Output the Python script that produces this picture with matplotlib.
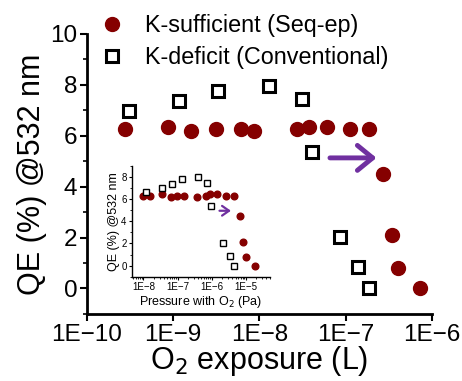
import numpy as np
import matplotlib
matplotlib.use("Agg")
import matplotlib.pyplot as plt
from matplotlib.ticker import FixedLocator, FuncFormatter, LogLocator, MultipleLocator, NullFormatter

plt.rcParams['font.family'] = ['Liberation Sans', 'DejaVu Sans']

# ---- main panel data: O2 exposure (L) vs QE (%) ----
suff_x = [2.74e-10, 8.73e-10, 1.63e-9, 3.13e-9, 6.10e-9, 8.7e-9, 2.75e-8, 3.79e-8,
          6.03e-8, 1.12e-7, 1.84e-7, 2.74e-7, 3.43e-7, 4.09e-7, 7.31e-7]
suff_y = [6.26, 6.36, 6.17, 6.27, 6.26, 6.17, 6.26, 6.36,
          6.36, 6.26, 6.26, 4.5, 2.09, 0.81, 0.03]
def_x = [3.08e-10, 1.16e-9, 3.32e-9, 1.30e-8, 3.09e-8, 4.04e-8, 8.61e-8, 1.38e-7, 1.84e-7]
def_y = [6.97, 7.37, 7.76, 7.97, 7.46, 5.38, 2.01, 0.85, 0.03]

# ---- inset data: pressure with O2 (Pa) vs QE (%) ----
in_suff_x = [9.5e-9, 1.6e-8, 3.5e-8, 6.5e-8, 9.5e-8, 1.5e-7, 3.6e-7, 6.8e-7,
             9.2e-7, 1.46e-6, 2.7e-6, 4.6e-6, 6.6e-6, 8.2e-6, 1.0e-5, 1.8e-5]
in_suff_y = [6.33, 6.33, 6.45, 6.2, 6.33, 6.33, 6.2, 6.33,
             6.45, 6.45, 6.33, 6.33, 4.5, 2.1, 0.8, 0.0]
in_def_x = [1.17e-8, 3.6e-8, 6.8e-8, 1.35e-7, 3.9e-7, 7.1e-7, 9.8e-7, 2.1e-6, 3.4e-6, 4.6e-6]
in_def_y = [6.64, 7.0, 7.4, 7.8, 8.0, 7.5, 5.4, 2.0, 0.85, 0.0]

main_xticks = [1e-10, 1e-9, 1e-8, 1e-7, 1e-6]
inset_xticks = [1e-8, 1e-7, 1e-6, 1e-5]
yticks_main = [0, 2, 4, 6, 8, 10]
yticks_inset = [0, 2, 4, 6, 8]

RED = '#850000'
PURPLE = '#7030A0'

def efmt(v, pos):
    e = int(round(np.log10(v)))
    return "1E\u2212%d" % (-e) if e < 0 else "1E%d" % e

fig = plt.figure(figsize=(4.62, 3.81), dpi=100)
ax = fig.add_axes([0.188, 0.176, 0.747, 0.735])

h1, = ax.plot(suff_x, suff_y, 'o', color=RED, ms=10, mec=RED, zorder=3,
              label='K-sufficient (Seq-ep)')
h2, = ax.plot(def_x, def_y, 's', mfc='white', mec='black', mew=2.2, ms=8.5, zorder=3,
              label='K-deficit (Conventional)')
ax.set_xscale('log')
ax.set_xlim(1e-10, 1.0e-6)
ax.set_ylim(-1, 10)
ax.xaxis.set_major_locator(FixedLocator(main_xticks))
ax.xaxis.set_major_formatter(FuncFormatter(efmt))
ax.xaxis.set_minor_locator(LogLocator(base=10, subs=np.arange(2, 10)))
ax.xaxis.set_minor_formatter(NullFormatter())
ax.yaxis.set_major_locator(FixedLocator(yticks_main))
ax.yaxis.set_minor_locator(MultipleLocator(1))
for s in ['top', 'right']:
    ax.spines[s].set_visible(False)
for s in ['left', 'bottom']:
    ax.spines[s].set_linewidth(2)
ax.tick_params(axis='both', which='major', direction='out', length=5, width=1.5, labelsize=17.5, pad=2)
ax.tick_params(axis='both', which='minor', direction='out', length=3, width=1.2)
ax.set_xlabel('O$_2$ exposure (L)', fontsize=22, labelpad=-1)
ax.set_ylabel('QE (%) @532 nm', fontsize=22, labelpad=2)

ax.annotate('', xy=(2.45e-7, 5.13), xytext=(6.1e-8, 5.13),
            arrowprops=dict(arrowstyle='->,head_length=0.55,head_width=0.45',
                            color=PURPLE, lw=3.5, mutation_scale=20))

fig.legend(handles=[h1, h2], loc='upper left', bbox_to_anchor=(0.182, 1.0),
           frameon=False, fontsize=16.8, handletextpad=0.8, labelspacing=0.4,
           handlelength=1.2, borderaxespad=0.2)

# ---- inset ----
ai = fig.add_axes([0.286, 0.274, 0.298, 0.290])
ai.plot(in_suff_x, in_suff_y, 'o', color=RED, ms=4.8, mec=RED, zorder=3)
ai.plot(in_def_x, in_def_y, 's', mfc='white', mec='black', mew=1.0, ms=4, zorder=3)
ai.set_xscale('log')
ai.set_xlim(4.7e-9, 5e-5)
ai.set_ylim(-1, 9)
ai.xaxis.set_major_locator(FixedLocator(inset_xticks))
ai.xaxis.set_major_formatter(FuncFormatter(efmt))
ai.xaxis.set_minor_locator(LogLocator(base=10, subs=np.arange(2, 10)))
ai.xaxis.set_minor_formatter(NullFormatter())
ai.yaxis.set_major_locator(FixedLocator(yticks_inset))
ai.yaxis.set_minor_locator(MultipleLocator(1))
for s in ['top', 'right']:
    ai.spines[s].set_visible(False)
for s in ['left', 'bottom']:
    ai.spines[s].set_linewidth(1.0)
ai.tick_params(axis='both', which='major', direction='out', length=2.5, width=0.8, labelsize=7, pad=1.5)
ai.tick_params(axis='both', which='minor', direction='out', length=1.5, width=0.6)
ai.set_xlabel('Pressure with O$_2$ (Pa)', fontsize=9, labelpad=1)
ai.set_ylabel('QE (%) @532 nm', fontsize=9, labelpad=1)
ai.annotate('', xy=(4.4e-6, 4.96), xytext=(1.4e-6, 4.96),
            arrowprops=dict(arrowstyle='->,head_length=0.5,head_width=0.35',
                            color=PURPLE, lw=1.6, mutation_scale=10))

fig.savefig('out.png', dpi=100)
